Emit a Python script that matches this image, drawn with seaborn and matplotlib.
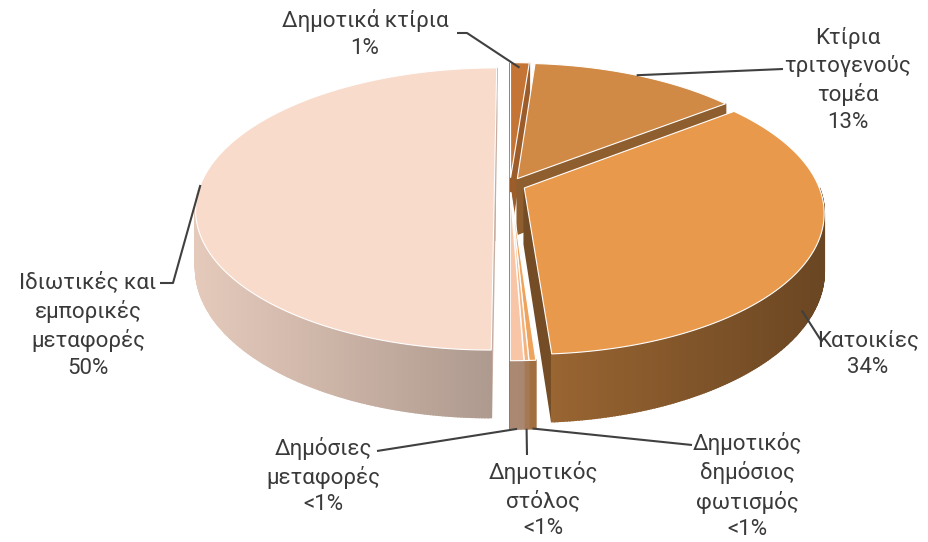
import numpy as np
import matplotlib.pyplot as plt
import seaborn as sns
from matplotlib.patches import Polygon
from matplotlib.colors import to_rgb

categories = ["Δημοτικά κτίρια", "Κτίρια\nτριτογενούς\nτομέα", "Κατοικίες",
              "Δημοτικός\nδημόσιος\nφωτισμός", "Δημοτικός\nστόλος",
              "Δημόσιες\nμεταφορές", "Ιδιωτικές και\nεμπορικές\nμεταφορές"]
shares = [1.2, 13.3, 34.4, 0.3, 0.2, 0.6, 50.0]
colors = ["#C47434", "#D08A45", "#E8994B", "#EFA45E", "#F3B37F", "#F8C6A6", "#F8DBCB"]

# label layout (pixel space): block centre, leader start points, anchor on slice
label_xy = [(365, 34), (848, 80), (868, 354), (747, 486), (543, 500), (323, 476), (88, 325)]
leader_from = [[(457, 33), (467, 33)], [(783, 69)], [(822, 342)], [(692, 445)],
               [(527, 455)], [(377, 451)], [(160, 283), (173, 283)]]
anchor_spec = [(0.5, 0.95, 1), (0.5, 1, 1), (0.56, 1, 0.3), (0.5, 1, 0),
               (0.5, 1, 0), (0.5, 1, 0), (0.5, 1, 1)]

sns.set_theme(style="white")
plt.rcParams["font.family"] = ["Roboto", "DejaVu Sans"]

# pseudo-3D pie geometry
CX, CY, R, RK, P, DEPTH = 510, 185, 294, 137, 0.17, 56
EXPLODE = 0.053


def project(X, Y, Z):
    w = 1 + P * Y
    return CX + R * X / w, CY - RK * Y / w + DEPTH * (1 - Z) / w


def shade(c, f):
    return tuple(np.clip(np.array(to_rgb(c)) * f, 0, 1))


fig = plt.figure(figsize=(9.29, 5.42), dpi=100)
ax = fig.add_axes([0, 0, 1, 1])
ax.set_xlim(0, 929)
ax.set_ylim(542, 0)
ax.axis("off")

edges = np.concatenate([[0], np.cumsum(shares)]) / sum(shares) * 360
cam = np.array([0, -1 / P])
walls, tops, anchors = [], [], []

for i, col in enumerate(colors):
    a0, a1 = edges[i], edges[i + 1]
    mid = np.radians((a0 + a1) / 2)
    ox, oy = EXPLODE * np.sin(mid), EXPLODE * np.cos(mid)

    def rim(phi, z, r=1.0):
        t = np.radians(phi)
        return project(ox + r * np.sin(t), oy + r * np.cos(t), z)

    # top face
    phis = np.linspace(a0, a1, max(4, int(a1 - a0) + 2))
    pts = [project(ox, oy, 1)] + [rim(f, 1) for f in phis]
    tops.append((oy, pts, col))

    # outer wall, front half only
    lo, hi = max(a0, 90), min(a1, 270)
    if lo < hi:
        segs = np.linspace(lo, hi, max(2, int(2 * (hi - lo)) + 2))
        for f0, f1 in zip(segs[:-1], segs[1:]):
            q = [rim(f0, 1), rim(f1, 1), rim(f1, 0), rim(f0, 0)]
            sx = np.mean([p[0] for p in q])
            k = np.clip(0.92 - 0.46 * (sx - 200) / 620, 0.4, 1)
            ym = oy + np.cos(np.radians((f0 + f1) / 2))
            walls.append((ym, q, shade(col, k)))

    # radial faces
    for phi, sgn in ((a0, -1), (a1, 1)):
        t = np.radians(phi)
        n = sgn * np.array([np.cos(t), -np.sin(t)])
        if n @ (cam - np.array([ox, oy])) > 0:
            q = [project(ox, oy, 1), rim(phi, 1), rim(phi, 0), project(ox, oy, 0)]
            ym = oy + 0.5 * np.cos(t)
            walls.append((ym, q, shade(col, 0.5 + 0.3 * max(n[0], 0))))

    fr, rr, zz = anchor_spec[i]
    anchors.append(rim(a0 + fr * (a1 - a0), zz, rr))

for _, q, c in sorted(walls, key=lambda w: -w[0]):
    ax.add_patch(Polygon(q, closed=True, facecolor=c, edgecolor=c, lw=1.2))
for _, q, c in sorted(tops, key=lambda w: -w[0]):
    ax.add_patch(Polygon(q, closed=True, facecolor=c, edgecolor="white", lw=0.8))

# labels and leader lines
for i, name in enumerate(categories):
    v = shares[i] / sum(shares) * 100
    pct = "<1%" if v < 1 else f"{round(v)}%"
    x, y = label_xy[i]
    ax.text(x, y, f"{name}\n{pct}", ha="center", va="center", ma="center",
            fontsize=16, color="#3A3A3A", linespacing=1.35)
    path = leader_from[i] + [anchors[i]]
    ax.plot([p[0] for p in path], [p[1] for p in path], color="#404040", lw=1.5,
            solid_capstyle="butt")

fig.savefig("out.png", dpi=100)
